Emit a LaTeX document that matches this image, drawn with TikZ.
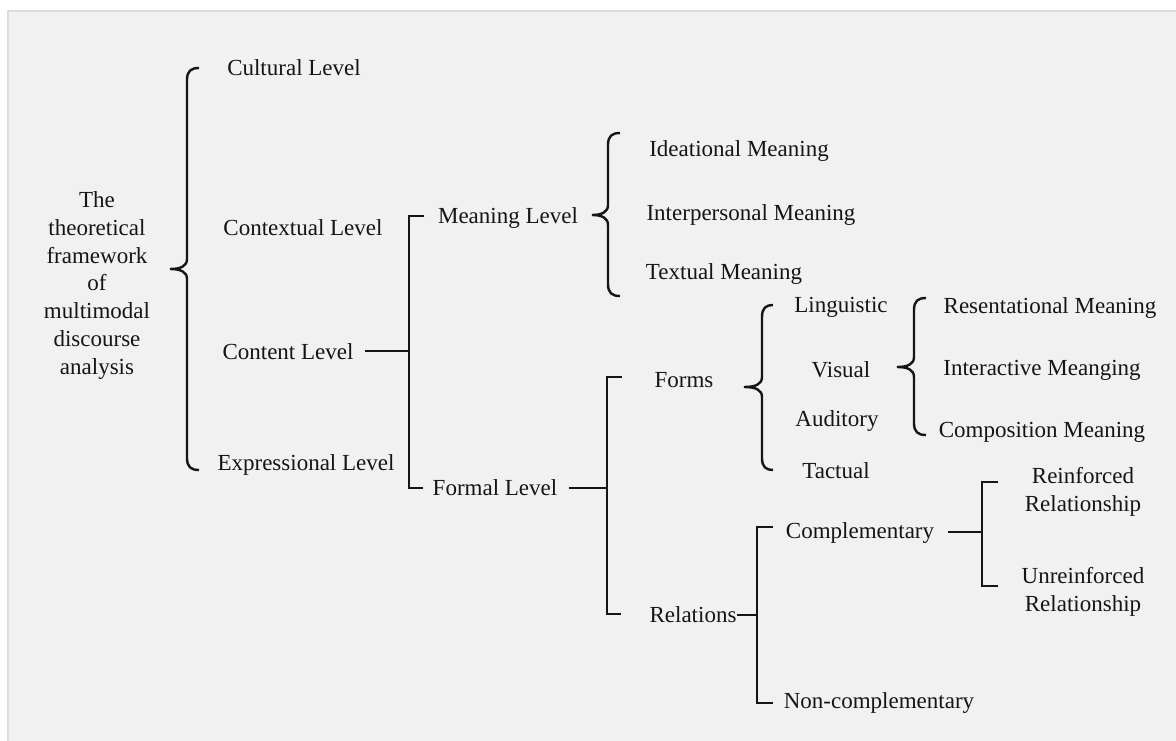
\documentclass[tikz,border=0pt]{standalone}
\usepackage{fontspec}
\setmainfont{Liberation Serif}
\definecolor{bggray}{HTML}{F1F1F1}
\definecolor{edgegray}{HTML}{DCDCDC}
\definecolor{ink}{HTML}{151515}
\tikzset{
  conn/.style={draw=ink, line width=2.4pt},
  lbl/.style={anchor=base, inner sep=0pt, text=ink, font=\fontsize{23}{27.7}\selectfont},
}
% curly brace: tipx, vx, hookx, ytop, ymid, ybot
\newcommand{\cbr}[6]{%
  \draw[conn] (#3,#4) .. controls ({#2+4},#4) and (#2,{#4+3}) .. (#2,{#4+12})
    -- (#2,{#5-10}) .. controls (#2,{#5-3}) and ({#2-6},#5) .. (#1,#5)
    .. controls ({#2-6},#5) and (#2,{#5+3}) .. (#2,{#5+10})
    -- (#2,{#6-12}) .. controls (#2,{#6-3}) and ({#2+4},#6) .. (#3,#6);}
\begin{document}
\begin{tikzpicture}[x=1pt,y=-1pt]
\useasboundingbox (0,0) rectangle (1176,741);
\fill[white] (0,0) rectangle (1176,741);
\fill[edgegray] (7,10) rectangle (1176,741);
\fill[bggray] (9,12) rectangle (1176,741);

% texts (multi-line nodes: base = last line's baseline)
\node[lbl, align=center] (root) at (97,374) {The\\theoretical\\framework\\of\\multimodal\\discourse\\analysis};
\node[lbl] (cultural) at (294,76) {Cultural Level};
\node[lbl] (contextual) at (303,235) {Contextual Level};
\node[lbl] (content) at (288,359) {Content Level};
\node[lbl] (expressional) at (306,470) {Expressional Level};
\node[lbl] (meaning) at (508,223) {Meaning Level};
\node[lbl] (ideational) at (739,157) {Ideational Meaning};
\node[lbl] (interpersonal) at (751,221) {Interpersonal Meaning};
\node[lbl] (textual) at (724,279) {Textual Meaning};
\node[lbl] (formal) at (495,495) {Formal Level};
\node[lbl] (forms) at (684,387) {Forms};
\node[lbl] (linguistic) at (841,312) {Linguistic};
\node[lbl] (visual) at (841,377) {Visual};
\node[lbl] (auditory) at (837,426) {Auditory};
\node[lbl] (tactual) at (836,478) {Tactual};
\node[lbl] (resentational) at (1050,313) {Resentational Meaning};
\node[lbl] (interactive) at (1042,375) {Interactive Meanging};
\node[lbl] (composition) at (1042,437) {Composition Meaning};
\node[lbl] (relations) at (693,622) {Relations};
\node[lbl] (complementary) at (860,538) {Complementary};
\node[lbl] (noncomp) at (879,708) {Non-complementary};
\node[lbl, align=center] (reinforced) at (1083,511) {Reinforced\\Relationship};
\node[lbl, align=center] (unreinforced) at (1083,611) {Unreinforced\\Relationship};

% curly braces
\cbr{170}{187}{199}{68}{269}{470}
\cbr{592}{608}{620}{133}{215}{296}
\cbr{744}{762}{773}{305}{387}{470}
\cbr{897}{914}{926}{298}{367}{435}

% square brackets
\coordinate (b2in) at (365,351); \coordinate (b2mid) at (409,351);
\coordinate (b2t) at (409,216); \coordinate (b2b) at (409,488);
\draw[conn] (424,216) -- (b2t) -- (b2b) -- (423,488);
\draw[conn] (b2in) -- (b2mid);

\coordinate (b4in) at (569,488); \coordinate (b4mid) at (607,488);
\coordinate (b4t) at (607,377); \coordinate (b4b) at (607,614);
\draw[conn] (622,377) -- (b4t) -- (b4b) -- (621,614);
\draw[conn] (b4in) -- (b4mid);

\coordinate (b7in) at (737,615); \coordinate (b7mid) at (757,615);
\coordinate (b7t) at (757,527); \coordinate (b7b) at (757,703);
\draw[conn] (773,527) -- (b7t) -- (b7b) -- (773,703);
\draw[conn] (b7in) -- (b7mid);

\coordinate (b8in) at (948,532); \coordinate (b8mid) at (982,532);
\coordinate (b8t) at (982,482); \coordinate (b8b) at (982,586);
\draw[conn] (998,482) -- (b8t) -- (b8b) -- (998,586);
\draw[conn] (b8in) -- (b8mid);
\end{tikzpicture}
\end{document}
